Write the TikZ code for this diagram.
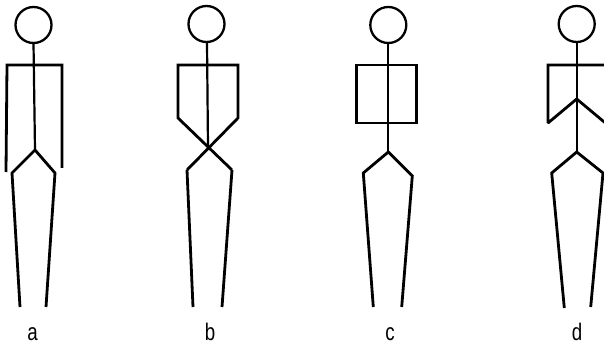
\documentclass[tikz,border=0pt]{standalone}
\usepackage{fontspec}
\setmainfont{Liberation Sans}
\begin{document}
\begin{tikzpicture}[x=1pt,y=-1pt,
  limb/.style={line width=2.8pt,line join=miter,miter limit=2,line cap=butt},
  spine/.style={line width=2.2pt},
  headc/.style={line width=2.3pt},
  lbl/.style={font=\fontsize{24}{26}\selectfont,xscale=0.78,inner sep=0pt,anchor=base}]
\useasboundingbox (0,0) rectangle (604,344);
\clip (0,0) rectangle (604,344);

% figure a: arms hanging at the sides
\draw[headc] (33.5,25) circle (18);
\draw[spine] (33.5,43) -- (35,150);
\draw[limb] (6,172) -- (7,65) -- (62,65) -- (62,168);
\draw[limb] (20,307) -- (12,173) -- (35,150) -- (55,173) -- (46,307);
\node[lbl] (la) at (32.5,340) {a};

% figure b: arms crossed in front of the hips
\draw[headc] (206.5,24) circle (18);
\draw[spine] (207,43) -- (208,147);
\draw[limb] (232,170) -- (178,118) -- (178,65) -- (238,65) -- (238,118) -- (187,170);
\draw[limb] (187,170) -- (193,307);
\draw[limb] (232,170) -- (222,307);
\node[lbl] (lb) at (210,340) {b};

% figure c: box-shaped torso
\draw[headc] (388.3,25) circle (18);
\draw[spine] (388.3,43) -- (388.3,152);
\draw[limb] (356.7,65) rectangle (416.7,123);
\draw[limb] (373.3,307) -- (363.3,173) -- (388.3,152) -- (412.3,176) -- (401.7,307);
\node[lbl] (lc) at (390,340) {c};

% figure d: arms folded to the chest
\draw[headc] (576.7,24) circle (18);
\draw[spine] (576.7,43) -- (576.7,152);
\draw[limb] (576.7,65) -- (548,65) -- (548,123) -- (576.7,99) -- (605.4,123) -- (605.4,65) -- cycle;
\draw[limb] (564.3,308) -- (551.7,173) -- (576.7,152) -- (603,173) -- (590.7,307);
\node[lbl] (ld) at (577,340) {d};
\end{tikzpicture}
\end{document}
